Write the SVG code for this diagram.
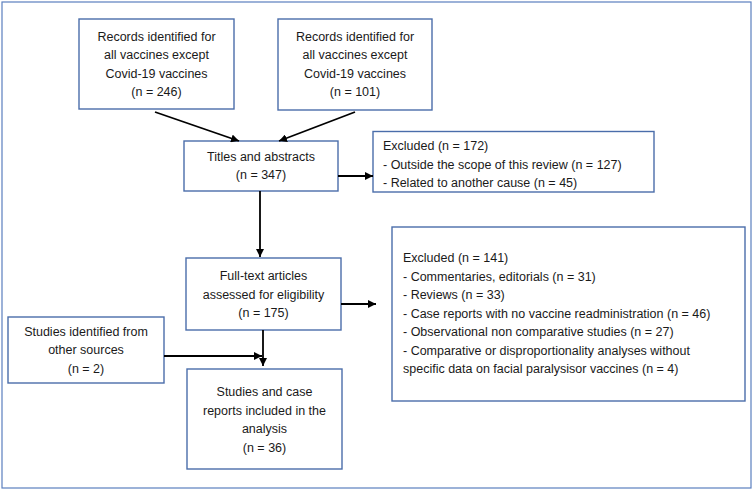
<svg xmlns="http://www.w3.org/2000/svg" width="755" height="492" viewBox="0 0 755 492">
<style>
  .frame { fill: #ffffff; stroke: #5b7fbf; stroke-width: 1.2; }
  .box { fill: #ffffff; stroke: #4a6daa; stroke-width: 1.4; }
  .t { font-family: "Liberation Sans", Arial, sans-serif; font-size: 12.5px; fill: #1a1a1a; }
  .c { text-anchor: middle; }
  .conn { stroke: #000000; stroke-width: 1.8; fill: none; marker-end: url(#ah); }
</style>
<defs>
  <marker id="ah" markerUnits="userSpaceOnUse" markerWidth="9" markerHeight="8" refX="8" refY="4" orient="auto">
    <path d="M0,0 L8,4 L0,8 z" fill="#000000"/>
  </marker>
</defs>
<rect class="frame" x="2" y="2" width="749" height="486"/>

<g id="records1">
  <rect class="box" x="79" y="19" width="155" height="90"/>
  <text class="t c" x="156.5" y="40.5">Records identified for</text>
  <text class="t c" x="156.5" y="59">all vaccines except</text>
  <text class="t c" x="156.5" y="77.5">Covid-19 vaccines</text>
  <text class="t c" x="156.5" y="96">(n = 246)</text>
</g>
<g id="records2">
  <rect class="box" x="278" y="19" width="154" height="91"/>
  <text class="t c" x="355" y="40.5">Records identified for</text>
  <text class="t c" x="355" y="59">all vaccines except</text>
  <text class="t c" x="355" y="77.5">Covid-19 vaccines</text>
  <text class="t c" x="355" y="96">(n = 101)</text>
</g>
<g id="titles">
  <rect class="box" x="184" y="141" width="154" height="50"/>
  <text class="t c" x="261" y="160.5">Titles and abstracts</text>
  <text class="t c" x="261" y="179">(n = 347)</text>
</g>
<g id="excluded172">
  <rect class="box" x="373" y="131.5" width="281" height="60.5"/>
  <text class="t" x="383" y="150">Excluded (n = 172)</text>
  <text class="t" x="383" y="168.5">- Outside the scope of this review (n = 127)</text>
  <text class="t" x="383" y="187">- Related to another cause (n = 45)</text>
</g>
<g id="fulltext">
  <rect class="box" x="186" y="258" width="155" height="72"/>
  <text class="t c" x="263.5" y="280">Full-text articles</text>
  <text class="t c" x="263.5" y="298.5">assessed for eligibility</text>
  <text class="t c" x="263.5" y="317">(n = 175)</text>
</g>
<g id="excluded141">
  <rect class="box" x="392" y="227" width="353" height="174"/>
  <text class="t" x="403" y="262">Excluded (n = 141)</text>
  <text class="t" x="403" y="280.5">- Commentaries, editorials (n = 31)</text>
  <text class="t" x="403" y="299">- Reviews (n = 33)</text>
  <text class="t" x="403" y="317.5">- Case reports with no vaccine readministration (n = 46)</text>
  <text class="t" x="403" y="336">- Observational non comparative studies (n = 27)</text>
  <text class="t" x="403" y="354.5">- Comparative or disproportionality analyses without</text>
  <text class="t" x="403" y="373">specific data on facial paralysisor vaccines (n = 4)</text>
</g>
<g id="other">
  <rect class="box" x="8" y="317" width="156" height="66"/>
  <text class="t c" x="86" y="335.5">Studies identified from</text>
  <text class="t c" x="86" y="354">other sources</text>
  <text class="t c" x="86" y="372.5">(n = 2)</text>
</g>
<g id="included">
  <rect class="box" x="187" y="369" width="155" height="100"/>
  <text class="t c" x="264.5" y="396">Studies and case</text>
  <text class="t c" x="264.5" y="414.5">reports included in the</text>
  <text class="t c" x="264.5" y="433">analysis</text>
  <text class="t c" x="264.5" y="451.5">(n = 36)</text>
</g>

<g id="connectors">
  <line class="conn" x1="155" y1="112" x2="239" y2="141"/>
  <line class="conn" x1="355" y1="112" x2="279" y2="141"/>
  <line class="conn" x1="338" y1="176" x2="373" y2="176"/>
  <line class="conn" x1="260" y1="191" x2="260" y2="257"/>
  <line class="conn" x1="341" y1="304" x2="376" y2="304"/>
  <line class="conn" x1="263" y1="330" x2="263" y2="366"/>
  <line class="conn" x1="164" y1="356" x2="262" y2="356"/>
</g>
</svg>
